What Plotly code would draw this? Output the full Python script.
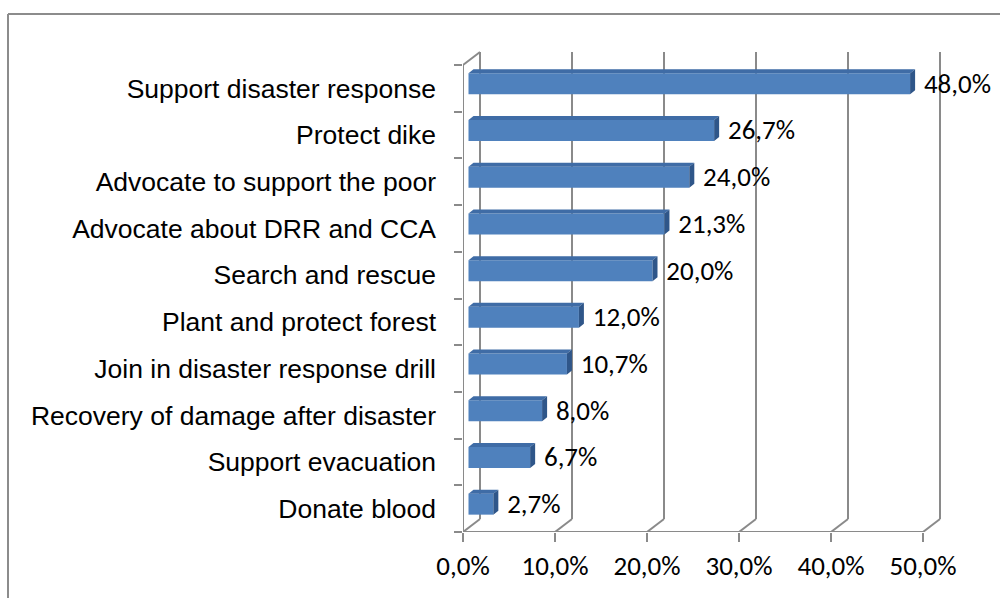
import plotly.graph_objects as go

# Survey answers, listed top to bottom
categories = [
    "Support disaster response",
    "Protect dike",
    "Advocate to support the poor",
    "Advocate about DRR and CCA",
    "Search and rescue",
    "Plant and protect forest",
    "Join in disaster response drill",
    "Recovery of damage after disaster",
    "Support evacuation",
    "Donate blood",
]
shares = [48.0, 26.7, 24.0, 21.3, 20.0, 12.0, 10.7, 8.0, 6.7, 2.7]
x_ticks = [0, 10, 20, 30, 40, 50]
x_tick_labels = ["0,0%", "10,0%", "20,0%", "30,0%", "40,0%", "50,0%"]

# --- pseudo-3D geometry (pixels converted to axis units) ---
W, H = 1000, 598
PLOT_L, PLOT_T, PLOT_B = 463, 14, 532
PX_X = 9.2          # pixels per percentage point
PX_Y = 46.7         # pixels per category slot
WALL_DX, WALL_DY = 17 / PX_X, 13 / PX_Y        # depth of the walls
BAR_OX, BAR_OY = 5.5 / PX_X, 4.5 / PX_Y        # bars sit mid-depth
BAR_DX, BAR_DY = 5 / PX_X, 4 / PX_Y            # depth of each bar
BAR_H = 21 / PX_Y

x_max = (W - PLOT_L) / PX_X
y_max = (PLOT_B - PLOT_T) / PX_Y
n = len(categories)
slot_centres = [n - 1 - i + 0.5 for i in range(n)]
x_last = x_ticks[-1]

GRID = "#8a8a8a"
FRONT = "#4f81bd"
TOP = "#3f6ca6"
SIDE = "#2f5689"
NUM_FONT = dict(family="Calibri, Carlito, Lato, sans-serif", size=27, color="#000000")

fig = go.Figure()

# front faces of the bars
fig.add_trace(go.Bar(
    orientation="h",
    x=shares,
    y=[c + BAR_OY for c in slot_centres],
    base=BAR_OX,
    width=BAR_H,
    marker=dict(color=FRONT, line=dict(width=0)),
    hoverinfo="skip",
    showlegend=False,
))

# top and side faces of the bars
top_x, top_y, side_x, side_y = [], [], [], []
for v, c in zip(shares, slot_centres):
    x0, x1 = BAR_OX, BAR_OX + v
    yb, yt = c + BAR_OY - BAR_H / 2, c + BAR_OY + BAR_H / 2
    top_x += [x0, x1, x1 + BAR_DX, x0 + BAR_DX, x0, None]
    top_y += [yt, yt, yt + BAR_DY, yt + BAR_DY, yt, None]
    side_x += [x1, x1 + BAR_DX, x1 + BAR_DX, x1, x1, None]
    side_y += [yb, yb + BAR_DY, yt + BAR_DY, yt, yb, None]

fig.add_trace(go.Scatter(x=top_x, y=top_y, mode="lines", fill="toself",
                         fillcolor=TOP, line=dict(width=0), hoverinfo="skip",
                         showlegend=False))
fig.add_trace(go.Scatter(x=side_x, y=side_y, mode="lines", fill="toself",
                         fillcolor=SIDE, line=dict(width=0), hoverinfo="skip",
                         showlegend=False))

# value labels
fig.add_trace(go.Scatter(
    x=[v + 2.1 for v in shares],
    y=[c + 0.05 for c in slot_centres],
    mode="text",
    text=[f"{v:.1f}%".replace(".", ",") for v in shares],
    textposition="middle right",
    textfont=NUM_FONT,
    hoverinfo="skip",
    showlegend=False,
    cliponaxis=False,
))

# invisible trace to carry the boundary-tick axis
fig.add_trace(go.Scatter(x=[0], y=[0], yaxis="y2", mode="markers",
                         marker=dict(opacity=0), hoverinfo="skip", showlegend=False))

# walls, floor and back gridlines
shapes = []
line = dict(color=GRID, width=2)
for t in x_ticks:
    shapes.append(dict(type="line", xref="x", yref="y", x0=t + WALL_DX, x1=t + WALL_DX,
                       y0=WALL_DY, y1=n + WALL_DY, line=line, layer="below"))
    shapes.append(dict(type="line", xref="x", yref="y", x0=t, x1=t + WALL_DX,
                       y0=0, y1=WALL_DY, line=line, layer="below"))
shapes.append(dict(type="line", xref="x", yref="y", x0=0, x1=0, y0=0, y1=n,
                   line=line, layer="below"))
shapes.append(dict(type="line", xref="x", yref="y", x0=0, x1=WALL_DX, y0=n,
                   y1=n + WALL_DY, line=line, layer="below"))
shapes.append(dict(type="line", xref="x", yref="y", x0=0, x1=x_last, y0=0, y1=0,
                   line=line, layer="below"))

# outer chart frame (top and left edges)
px_to_paper_x = lambda px: (px - PLOT_L) / (W - PLOT_L)
px_to_paper_y = lambda py: (PLOT_B - py) / (PLOT_B - PLOT_T)
frame = dict(color="#8c8c8c", width=2)
shapes.append(dict(type="line", xref="paper", yref="paper",
                   x0=px_to_paper_x(8), x1=px_to_paper_x(W), y0=px_to_paper_y(14),
                   y1=px_to_paper_y(14), line=frame))
shapes.append(dict(type="line", xref="paper", yref="paper",
                   x0=px_to_paper_x(8), x1=px_to_paper_x(8), y0=px_to_paper_y(14),
                   y1=px_to_paper_y(H), line=frame))

fig.update_layout(
    width=W, height=H,
    margin=dict(l=PLOT_L, r=0, t=PLOT_T, b=H - PLOT_B, pad=0),
    paper_bgcolor="white", plot_bgcolor="white",
    barmode="overlay",
    shapes=shapes,
    xaxis=dict(
        range=[0, x_max], tickvals=x_ticks, ticktext=x_tick_labels,
        ticks="outside", ticklen=9, tickwidth=2, tickcolor=GRID,
        showgrid=False, zeroline=False, showline=False, fixedrange=True,
        tickfont=NUM_FONT,
        ticklabelstandoff=1,
    ),
    yaxis=dict(
        range=[0, y_max], tickvals=slot_centres, ticktext=categories,
        ticks="", showgrid=False, zeroline=False, showline=False, fixedrange=True,
        tickfont=dict(family="Liberation Sans, Arial, sans-serif", size=26.5, color="#000000"),
        ticklabelstandoff=26,
    ),
    yaxis2=dict(
        overlaying="y", side="left", anchor="x", range=[0, y_max],
        tickvals=list(range(n + 1)), ticks="outside", ticklen=8, tickwidth=2,
        tickcolor=GRID, showticklabels=False, showgrid=False, zeroline=False,
        showline=False, fixedrange=True,
    ),
)

fig.write_html("out.html")
